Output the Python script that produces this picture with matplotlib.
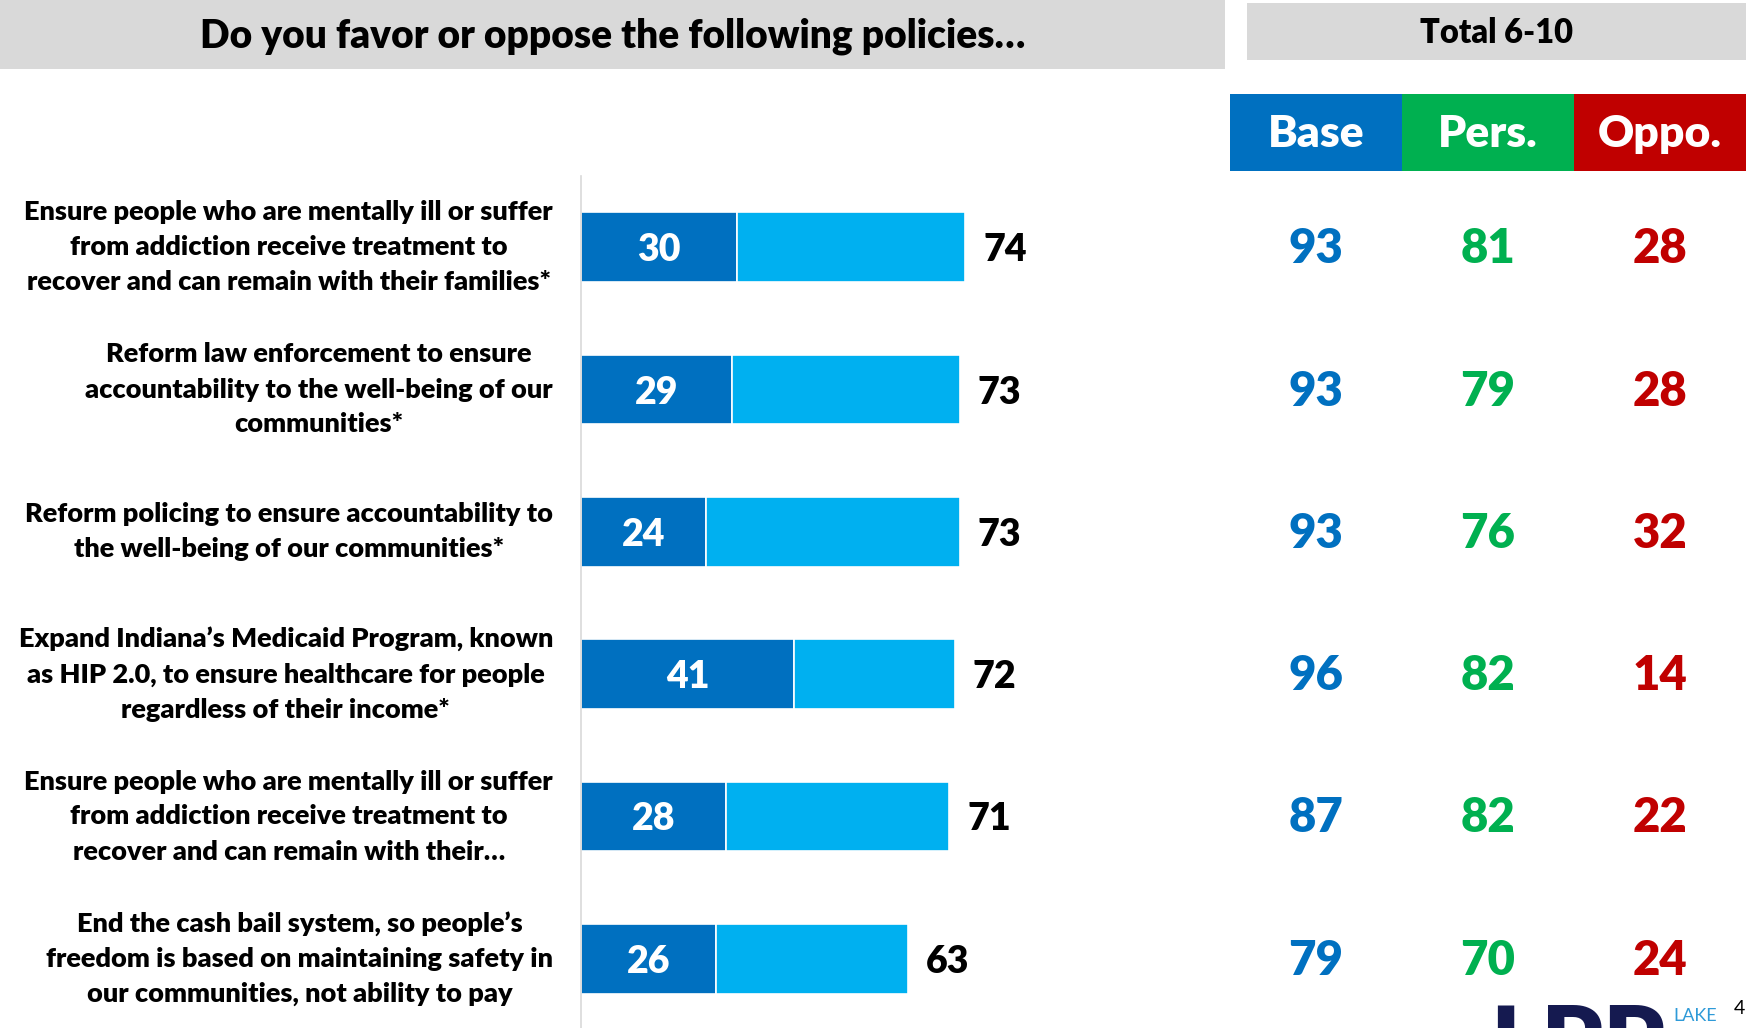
import numpy as np
import matplotlib
matplotlib.use("Agg")
import matplotlib.pyplot as plt
from matplotlib.patches import Rectangle
import matplotlib.transforms as mtransforms

plt.rcParams['font.family'] = ['Lato', 'DejaVu Sans']
plt.rcParams['font.weight'] = 'heavy'

W, H = 1746, 1028

title = "Do you favor or oppose the following policies…"
panel_title = "Total 6-10"
categories = [
    "Ensure people who are mentally ill or suffer\nfrom addiction receive treatment to\nrecover and can remain with their families*",
    "Reform law enforcement to ensure\naccountability to the well-being of our\ncommunities*",
    "Reform policing to ensure accountability to\nthe well-being of our communities*",
    "Expand Indiana’s Medicaid Program, known\nas HIP 2.0, to ensure healthcare for people\nregardless of their income*",
    "Ensure people who are mentally ill or suffer\nfrom addiction receive treatment to\nrecover and can remain with their…",
    "End the cash bail system, so people’s\nfreedom is based on maintaining safety in\nour communities, not ability to pay",
]
strong = [30, 29, 24, 41, 28, 26]
total = [74, 73, 73, 72, 71, 63]
groups = ["Base", "Pers.", "Oppo."]
base = [93, 93, 93, 96, 87, 79]
pers = [81, 79, 76, 82, 82, 70]
oppo = [28, 28, 32, 14, 22, 24]

dark_blue = "#0070C0"
light_blue = "#00B0F0"
group_colors = ["#0070C0", "#00B050", "#C00000"]
grey = "#D9D9D9"
BOLD = "heavy"


def fx(px):
    return px / W


def fy(py):
    return 1 - py / H


fig = plt.figure(figsize=(W / 100, H / 100), dpi=100)

# header boxes
fig.add_artist(Rectangle((0, fy(69)), fx(1225), 69 / H, transform=fig.transFigure,
                         facecolor=grey, edgecolor="none"))
fig.text(fx(613), fy(36), title, ha="center", va="center", fontsize=28, fontweight=BOLD)
fig.add_artist(Rectangle((fx(1247), fy(60)), fx(W - 1247), 57 / H, transform=fig.transFigure,
                         facecolor=grey, edgecolor="none"))
fig.text(fx(1497), fy(33), panel_title, ha="center", va="center", fontsize=23.5, fontweight=BOLD)

# bars
ax = fig.add_axes([fx(581), fy(1030), fx(519), 854 / H])
y = np.arange(len(categories))
strong_a = np.array(strong)
total_a = np.array(total)
ax.barh(y, strong_a, height=0.49, color=dark_blue, edgecolor="white", linewidth=1.2)
ax.barh(y, total_a - strong_a, left=strong_a, height=0.49, color=light_blue,
        edgecolor="white", linewidth=1.2)
ax.set_xlim(0, 100)
ax.set_ylim(len(categories) - 0.5, -0.5)
for s in ["top", "right", "bottom"]:
    ax.spines[s].set_visible(False)
ax.spines["left"].set_color("#D9D9D9")
ax.spines["left"].set_linewidth(1.2)
ax.set_xticks([])
ax.set_yticks([])

for i in range(len(categories)):
    ax.annotate(str(strong[i]), (strong[i] / 2, i), xytext=(0, -3), textcoords="offset pixels",
                ha="center", va="center", color="white", fontsize=27, fontweight=BOLD)
    ax.annotate(str(total[i]), (total[i], i), xytext=(18, -3), textcoords="offset pixels",
                ha="left", va="center", fontsize=27, fontweight=BOLD, color="black")

lab_tr = mtransforms.blended_transform_factory(fig.transFigure, ax.transData)
for i, c in enumerate(categories):
    ax.text(fx(553), i, c, transform=lab_tr, ha="right", va="center",
            multialignment="center", fontsize=19.5, fontweight=BOLD, linespacing=1.55)

# group headers
hx = fig.add_axes([fx(1230), fy(171), fx(516), 77 / H])
hx.bar(range(3), [1, 1, 1], width=1.0, color=group_colors)
hx.set_xlim(-0.5, 2.5)
hx.set_ylim(0, 1)
hx.axis("off")
for j, g in enumerate(groups):
    hx.text(j, 0.48, g, ha="center", va="center", color="white", fontsize=32, fontweight=BOLD)

# group values
tx = fig.add_axes([fx(1230), fy(1030), fx(516), 854 / H], sharey=ax)
tx.set_xlim(-0.5, 2.5)
tx.axis("off")
for j, vals in enumerate([base, pers, oppo]):
    for i, v in enumerate(vals):
        tx.annotate(str(v), (j, i), xytext=(0, -2), textcoords="offset pixels",
                    ha="center", va="center", color=group_colors[j],
                    fontsize=34, fontweight=BOLD)

# logo remnants at the bottom
fig.text(fx(1490), fy(1003), "LPP", ha="left", va="top", fontsize=70,
         fontweight=BOLD, color="#151A50")
fig.text(fx(1673), fy(1008), "LAKE", ha="left", va="top", fontsize=13,
         fontweight="normal", color="#2E9AD8")
fig.text(fx(1734), fy(1000), "4", ha="left", va="top", fontsize=14,
         fontweight="normal", color="black")

fig.savefig("out.png", dpi=100)
